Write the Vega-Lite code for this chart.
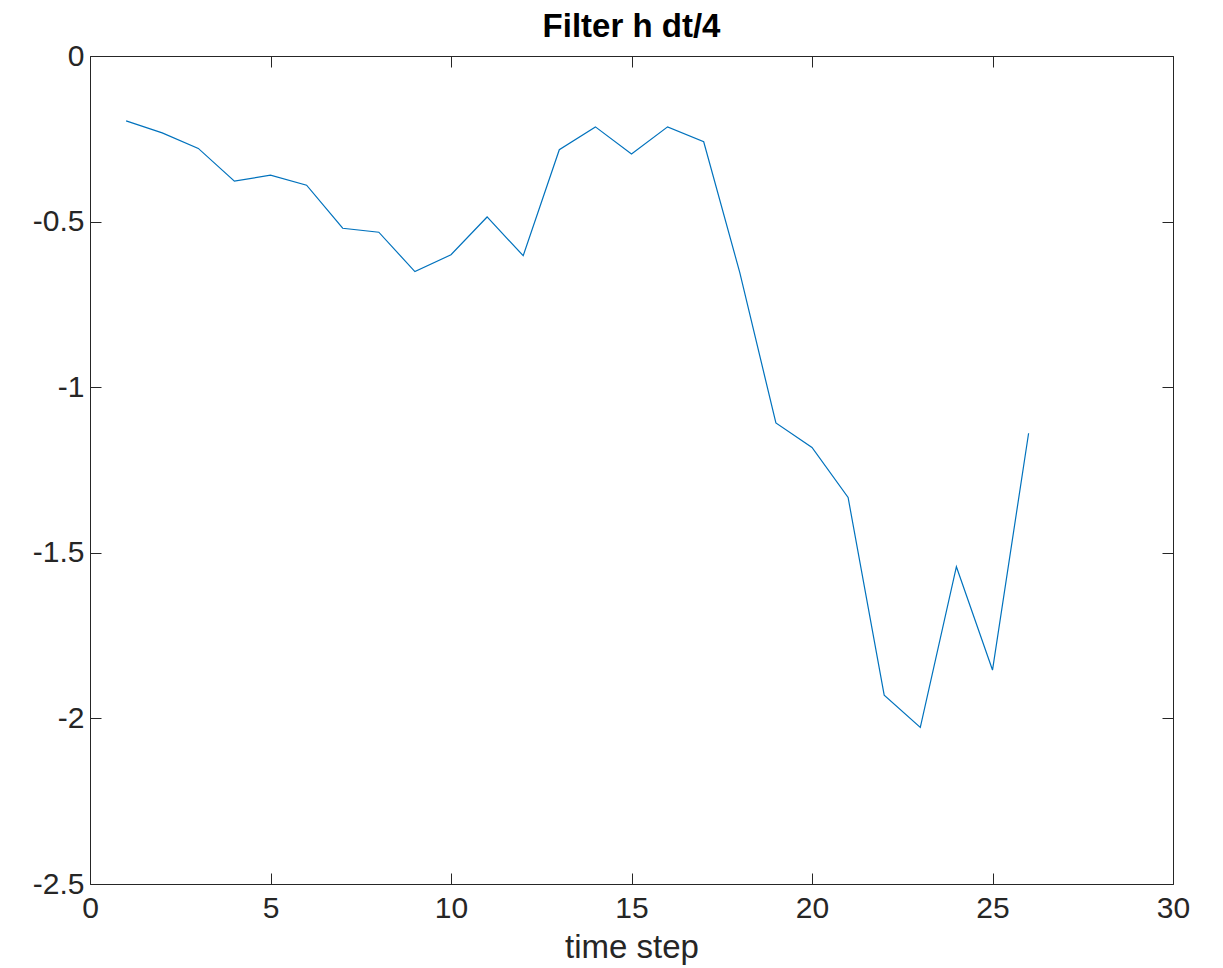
{
  "$schema": "https://vega.github.io/schema/vega-lite/v6.json",
  "autosize": "none",
  "width": 1083,
  "height": 828,
  "padding": {"left": 90, "top": 56, "right": 50, "bottom": 84},
  "background": "white",
  "config": {
    "font": "Liberation Sans",
    "view": {"stroke": null},
    "axis": {
      "domainColor": "#262626",
      "tickColor": "#262626",
      "labelColor": "#262626",
      "titleColor": "#262626",
      "grid": false,
      "labelFontSize": 30,
      "titleFontSize": 33,
      "titleFontWeight": "normal",
      "tickSize": -11,
      "domainWidth": 1,
      "tickWidth": 1,
      "labelFlush": false,
      "labelExpr": "datum.value + ''"
    }
  },
  "title": {
    "text": "Filter h dt/4",
    "fontSize": 33,
    "fontWeight": "bold",
    "color": "#000000",
    "offset": -3
  },
  "data": {
    "values": [
      {"t": 1, "h": -0.196},
      {"t": 2, "h": -0.232},
      {"t": 3, "h": -0.279},
      {"t": 4, "h": -0.378},
      {"t": 5, "h": -0.360},
      {"t": 6, "h": -0.390},
      {"t": 7, "h": -0.520},
      {"t": 8, "h": -0.532},
      {"t": 9, "h": -0.651},
      {"t": 10, "h": -0.600},
      {"t": 11, "h": -0.486},
      {"t": 12, "h": -0.603},
      {"t": 13, "h": -0.283},
      {"t": 14, "h": -0.214},
      {"t": 15, "h": -0.296},
      {"t": 16, "h": -0.214},
      {"t": 17, "h": -0.259},
      {"t": 18, "h": -0.654},
      {"t": 19, "h": -1.108},
      {"t": 20, "h": -1.182},
      {"t": 21, "h": -1.333},
      {"t": 22, "h": -1.930},
      {"t": 23, "h": -2.027},
      {"t": 24, "h": -1.542},
      {"t": 25, "h": -1.854},
      {"t": 26, "h": -1.139}
    ]
  },
  "layer": [
    {
      "mark": {"type": "line", "color": "#0072BD", "strokeWidth": 1.2, "clip": true},
      "encoding": {
        "x": {
          "field": "t", "type": "quantitative",
          "scale": {"domain": [0, 30], "nice": false, "zero": false},
          "axis": {"orient": "bottom", "values": [0, 5, 10, 15, 20, 25, 30], "title": "time step", "labelPadding": 20, "titlePadding": 8}
        },
        "y": {
          "field": "h", "type": "quantitative",
          "scale": {"domain": [-2.5, 0], "nice": false, "zero": false},
          "axis": {"orient": "left", "values": [-2.5, -2, -1.5, -1, -0.5, 0], "title": null, "labelPadding": 17}
        }
      }
    },
    {
      "mark": {"type": "line", "opacity": 0},
      "encoding": {
        "x": {
          "field": "t", "type": "quantitative",
          "scale": {"domain": [0, 30], "nice": false, "zero": false},
          "axis": {"orient": "top", "values": [0, 5, 10, 15, 20, 25, 30], "labels": false, "title": null}
        },
        "y": {
          "field": "h", "type": "quantitative",
          "scale": {"domain": [-2.5, 0], "nice": false, "zero": false},
          "axis": {"orient": "right", "values": [-2.5, -2, -1.5, -1, -0.5, 0], "labels": false, "title": null}
        }
      }
    }
  ],
  "resolve": {"axis": {"x": "independent", "y": "independent"}}
}
